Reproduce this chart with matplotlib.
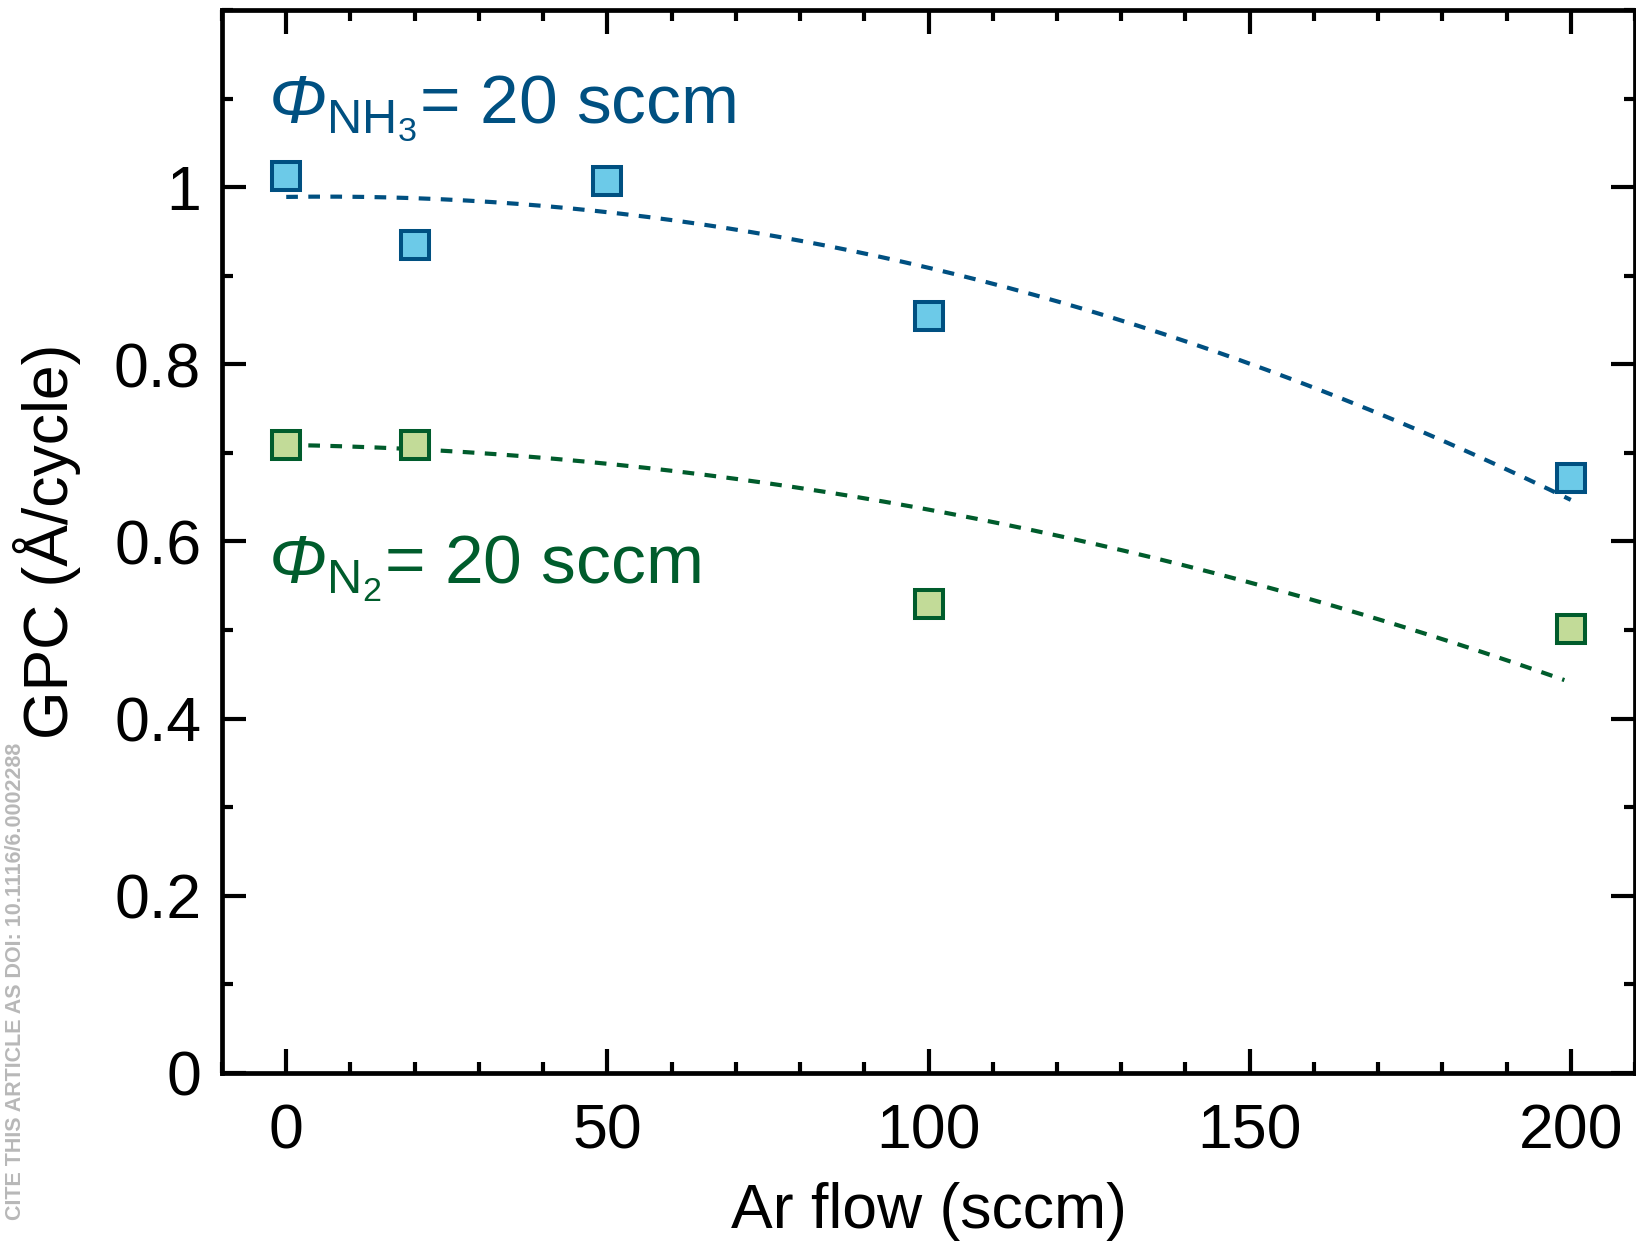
import numpy as np
import matplotlib
matplotlib.use('Agg')
import matplotlib.pyplot as plt
from matplotlib.ticker import MultipleLocator

# GPC vs Ar flow, dos series (NH3 y N2 a 20 sccm)
ar_nh3 = [0, 20, 50, 100, 200]
gpc_nh3 = [1.013, 0.935, 1.007, 0.854, 0.672]

ar_n2 = [0, 20, 100, 200]
gpc_n2 = [0.709, 0.709, 0.529, 0.501]

# curvas de tendencia (cuadraticas): a + b*x + c*x^2
coef_nh3 = [0.989, 0.00011, -9.1e-6]
coef_n2 = [0.709, -0.00012, -6.1e-6]
fin_nh3 = 200
fin_n2 = 199

azul_borde = '#005081'
azul_relleno = '#6CCAE8'
verde_borde = '#005C2C'
verde_relleno = '#C2DB98'

plt.rcParams['font.family'] = ['Liberation Sans', 'DejaVu Sans']
plt.rcParams['mathtext.fontset'] = 'custom'
plt.rcParams['mathtext.rm'] = 'Liberation Sans'
plt.rcParams['mathtext.sf'] = 'Liberation Sans:italic'
plt.rcParams['mathtext.it'] = 'Liberation Sans:italic'

fig = plt.figure(figsize=(16.36, 12.51), dpi=100)
ax = fig.add_axes([0.1357, 0.1423, 0.8637, 0.8497])


def curva(coef, x_fin):
    xx = np.linspace(0, x_fin, 300)
    return xx, coef[0] + coef[1] * xx + coef[2] * xx**2


xx, yy = curva(coef_nh3, fin_nh3)
ax.plot(xx, yy, color=azul_borde, lw=3.0, ls=(0, (2.8, 2.5)), zorder=2)
xx, yy = curva(coef_n2, fin_n2)
ax.plot(xx, yy, color=verde_borde, lw=3.0, ls=(0, (2.8, 2.5)), zorder=2)

ax.plot(ar_nh3, gpc_nh3, ls='none', marker='s', ms=19.5, mew=2.9,
        mfc=azul_relleno, mec=azul_borde, zorder=3)
ax.plot(ar_n2, gpc_n2, ls='none', marker='s', ms=19.5, mew=2.9,
        mfc=verde_relleno, mec=verde_borde, zorder=3)

ax.text(-2.8, 1.073, r'$\mathsf{\Phi}_{\mathrm{NH_3}}$= 20 sccm',
        color=azul_borde, fontsize=50, ha='left', va='baseline')
ax.text(-2.8, 0.552, r'$\mathsf{\Phi}_{\mathrm{N_2}}$= 20 sccm',
        color=verde_borde, fontsize=50, ha='left', va='baseline')

ax.set_xlim(-10, 210)
ax.set_ylim(0, 1.2)
ax.xaxis.set_major_locator(MultipleLocator(50))
ax.xaxis.set_minor_locator(MultipleLocator(10))
ax.yaxis.set_major_locator(MultipleLocator(0.2))
ax.yaxis.set_minor_locator(MultipleLocator(0.1))
ax.set_yticks([0, 0.2, 0.4, 0.6, 0.8, 1.0])
ax.set_yticklabels(['0', '0.2', '0.4', '0.6', '0.8', '1'])

ax.tick_params(which='both', direction='in', top=True, right=True,
               width=3, labelsize=45)
ax.tick_params(axis='x', which='both', pad=21)
ax.tick_params(axis='y', which='both', pad=15)
ax.tick_params(which='major', length=17)
ax.tick_params(which='minor', length=8)
for s in ax.spines.values():
    s.set_linewidth(3.4)

ax.set_xlabel('Ar flow (sccm)', fontsize=45, labelpad=15)
ax.set_ylabel('GPC (Å/cycle)', fontsize=45, labelpad=24)

# marca de agua del articulo (en el borde izquierdo)
fig.text(0.0092, 0.406, 'CITE THIS ARTICLE AS DOI: 10.1116/6.0002288',
         rotation=90, ha='center', va='top', color='#B8B8B8', fontsize=15.5,
         fontweight='bold')

fig.savefig('out.png', dpi=100)
